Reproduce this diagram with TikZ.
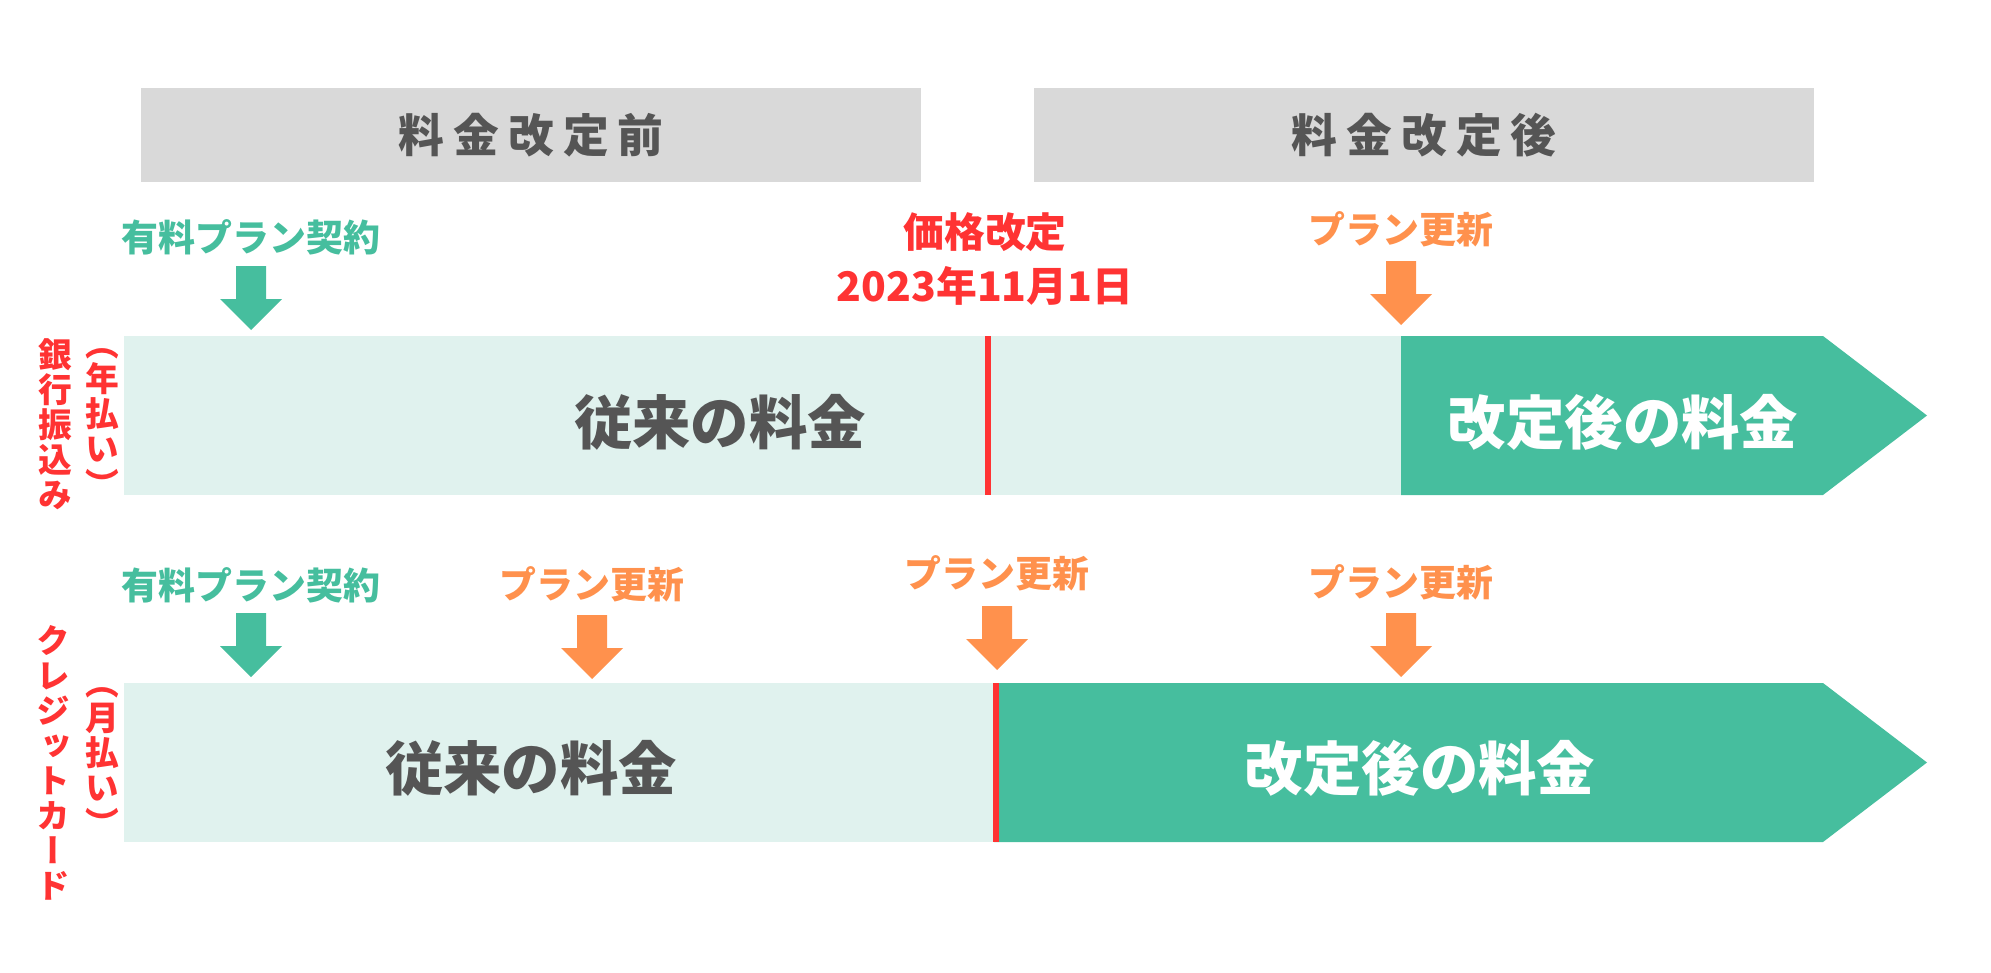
\documentclass[tikz,border=0pt]{standalone}
\usepackage{fontspec}
\setmainfont{Noto Sans CJK JP}
\newfontfamily\jpvert[RawFeature=+vert]{Noto Sans CJK JP}

\definecolor{planGreen}{HTML}{46BE9E}
\definecolor{feeMint}{HTML}{E0F2EE}
\definecolor{planOrange}{HTML}{FF914D}
\definecolor{dateRed}{HTML}{FF3333}
\definecolor{hdrGray}{HTML}{D9D9D9}
\definecolor{txtGray}{HTML}{555555}

\tikzset{
    hdrbox/.style={fill=hdrGray, minimum width=7.79cm, minimum height=0.93cm, inner sep=0,
        text=txtGray, font=\bfseries\fontsize{13}{14}\selectfont},
    feetxt/.style={font=\bfseries\fontsize{16.6}{18}\selectfont, inner sep=0},
    smalltxt/.style={font=\bfseries\fontsize{10.5}{11}\selectfont, inner sep=0},
    datetxt/.style={dateRed, font=\bfseries\fontsize{11.6}{15.6}\selectfont, align=center, inner sep=0},
    vlabel/.style={dateRed, font=\jpvert\bfseries\fontsize{9.6}{9.96}\selectfont, align=center, inner sep=0},
    dnarrow/.pic={\fill (-15,0) -- (15,0) -- (15,33) -- (31,33) -- (0,64) -- (-31,33) -- (-15,33) -- cycle;}
}
\newcommand{\hsp}{\hspace{2.6pt}}

\begin{document}
\begin{tikzpicture}[x=0.01cm, y=-0.01cm]
    \useasboundingbox (0,0) rectangle (1991,973);

    % Headers
    \node[hdrbox] (hdrBefore) at (531,135) {料\hsp 金\hsp 改\hsp 定\hsp 前};
    \node[hdrbox] (hdrAfter) at (1424,135) {料\hsp 金\hsp 改\hsp 定\hsp 後};

    % Bank transfer (yearly)
    \fill[feeMint] (124,336) rectangle (1401,495);
    \fill[planGreen] (1401,336) -- (1823,336) -- (1927,415.5) -- (1823,495) -- (1401,495) -- cycle;
    \draw[dateRed, line width=1.45pt] (988,336) -- (988,495);
    \node[feetxt, txtGray] (oldFeeA) at (720,422) {従来の料金};
    \node[feetxt, white] (newFeeA) at (1623,422) {改定後の料金};

    \node[smalltxt, planGreen] (contractA) at (251,237) {有料プラン契約};
    \pic[planGreen] at (251,266) {dnarrow};
    \node[datetxt] (revision) at (985,259) {価格改定\\2023年11月1日};
    \node[smalltxt, planOrange] (renewA) at (1401,229) {プラン更新};
    \pic[planOrange] at (1401,261) {dnarrow};

    % Credit card (monthly)
    \fill[feeMint] (124,683) rectangle (994,842);
    \fill[planGreen] (994,683) -- (1823,683) -- (1927,762.5) -- (1823,842) -- (994,842) -- cycle;
    \draw[dateRed, line width=1.45pt] (996,683) -- (996,842);
    \node[feetxt, txtGray] (oldFeeB) at (531,768) {従来の料金};
    \node[feetxt, white] (newFeeB) at (1420,768) {改定後の料金};

    \node[smalltxt, planGreen] (contractB) at (251,585) {有料プラン契約};
    \pic[planGreen] at (251,613) {dnarrow};
    \node[smalltxt, planOrange] (renewB) at (592,584) {プラン更新};
    \pic[planOrange] at (592,615) {dnarrow};
    \node[smalltxt, planOrange] (renewC) at (997,573) {プラン更新};
    \pic[planOrange] at (997,606) {dnarrow};
    \node[smalltxt, planOrange] (renewD) at (1401,582) {プラン更新};
    \pic[planOrange] at (1401,613) {dnarrow};

    % Payment methods
    \node[vlabel] (bank) at (55,424) {銀\\行\\振\\込\\み};
    \node[vlabel] (yearly) at (102,423) {（\\年\\払\\い\\）};
    \node[vlabel] (card) at (53,763) {ク\\レ\\ジ\\ッ\\ト\\カ\\ー\\ド};
    \node[vlabel] (monthly) at (102,762) {（\\月\\払\\い\\）};
\end{tikzpicture}
\end{document}
